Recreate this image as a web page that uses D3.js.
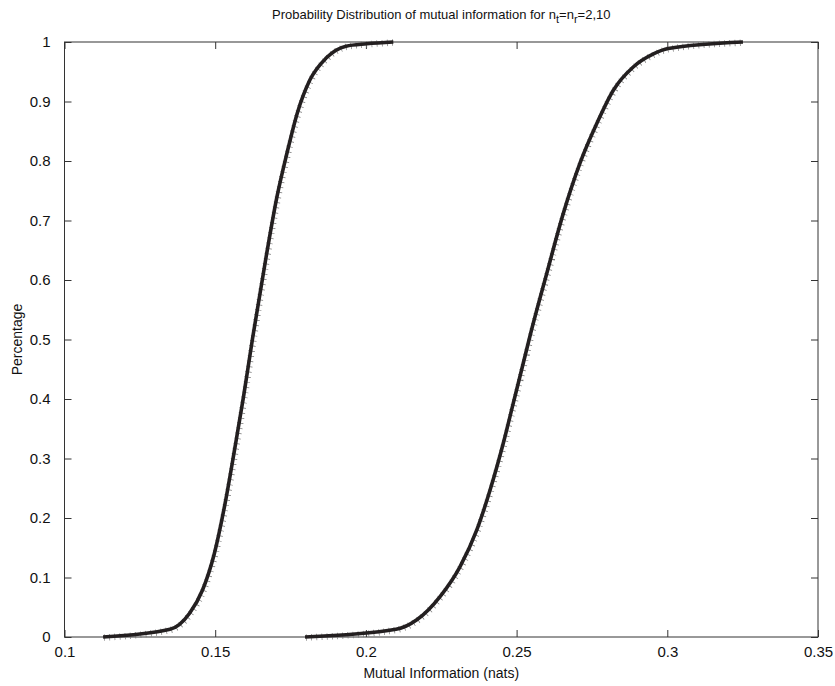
<!DOCTYPE html>
<html>
<head>
<meta charset="utf-8">
<script src="https://cdn.jsdelivr.net/npm/d3@7"></script>
<style>
  body { margin: 0; background: #fff; }
  text { font-family: "Liberation Sans", Arial, sans-serif; fill: #111; }
</style>
</head>
<body>
<svg id="chart" width="835" height="686"></svg>
<script>
// curve 1 (n = 2)
var mi1 = [0.1128, 0.135, 0.1415, 0.1458, 0.1497, 0.1533, 0.1566, 0.1594, 0.1624, 0.1669, 0.1705, 0.1738, 0.1772, 0.1814, 0.1868, 0.1934, 0.2003, 0.2091]
var p1  = [0, 0.013, 0.040, 0.079, 0.140, 0.225, 0.320, 0.404, 0.502, 0.639, 0.740, 0.813, 0.880, 0.936, 0.973, 0.993, 0.997, 1.0]

// curve 2 (n = 10)
var mi2 = [0.1798, 0.2100, 0.2169, 0.2246, 0.2312, 0.2368, 0.2412, 0.2456, 0.2489, 0.2522, 0.2544, 0.2600, 0.2655, 0.2710, 0.2766, 0.2821, 0.2887, 0.2954, 0.3003, 0.3251]
var p2  = [0, 0.013, 0.029, 0.068, 0.118, 0.180, 0.247, 0.326, 0.393, 0.460, 0.505, 0.611, 0.712, 0.796, 0.863, 0.919, 0.958, 0.980, 0.989, 1.0]

var xTicks = [0.1, 0.15, 0.2, 0.25, 0.3, 0.35]
var yTicks = [0, 0.1, 0.2, 0.3, 0.4, 0.5, 0.6, 0.7, 0.8, 0.9, 1]

var drawChart = () => {

    var svg = d3.select('#chart')

    // plot box (note: 'top' is reserved on window, so use other names)
    var boxLeft = 64.5, boxRight = 818, boxTop = 42, boxBottom = 637

    var x = d3.scaleLinear().domain([0.1, 0.35]).range([boxLeft, boxRight])
    var y = d3.scaleLinear().domain([0, 1]).range([boxBottom, boxTop])

    var axisColor = '#333'
    var tickLen = 7
    var fmt = d3.format('~g')

    svg.append('rect')
        .attr('x', boxLeft).attr('y', boxTop)
        .attr('width', boxRight - boxLeft).attr('height', boxBottom - boxTop)
        .attr('fill', 'none')
        .attr('stroke', axisColor)
        .attr('stroke-width', 1)

    // ticks point inwards on all four sides, MATLAB style
    var gx = svg.append('g')
        .attr('transform', 'translate(0,' + boxBottom + ')')
        .call(d3.axisBottom(x).tickValues(xTicks).tickSizeInner(-tickLen).tickSizeOuter(0).tickPadding(12).tickFormat(fmt))
    gx.select('.domain').remove()
    gx.selectAll('line').attr('stroke', axisColor)
    gx.selectAll('text').style('font-size', '15px').attr('dy', '0.5em')

    var gxt = svg.append('g')
        .attr('transform', 'translate(0,' + boxTop + ')')
        .call(d3.axisTop(x).tickValues(xTicks).tickSizeInner(-tickLen).tickSizeOuter(0).tickFormat(''))
    gxt.select('.domain').remove()
    gxt.selectAll('line').attr('stroke', axisColor)

    var gy = svg.append('g')
        .attr('transform', 'translate(' + boxLeft + ',0)')
        .call(d3.axisLeft(y).tickValues(yTicks).tickSizeInner(-tickLen).tickSizeOuter(0).tickPadding(14).tickFormat(fmt))
    gy.select('.domain').remove()
    gy.selectAll('line').attr('stroke', axisColor)
    gy.selectAll('text').style('font-size', '15px')

    var gyr = svg.append('g')
        .attr('transform', 'translate(' + boxRight + ',0)')
        .call(d3.axisRight(y).tickValues(yTicks).tickSizeInner(-tickLen).tickSizeOuter(0).tickFormat(''))
    gyr.select('.domain').remove()
    gyr.selectAll('line').attr('stroke', axisColor)

    // curves
    var line = d3.line()
        .x(d => x(d[0]))
        .y(d => y(d[1]))
        .curve(d3.curveMonotoneX)

    var series = [d3.zip(mi1, p1), d3.zip(mi2, p2)]

    series.forEach(pts => {
        // faint tick marks along the curve (the dotted overlay in the original)
        svg.append('path')
            .datum(pts)
            .attr('d', line)
            .attr('fill', 'none')
            .attr('stroke', '#777')
            .attr('stroke-width', 6.5)
            .attr('stroke-dasharray', '0.7,4.5')
            .attr('transform', 'translate(1,0.5)')
        svg.append('path')
            .datum(pts)
            .attr('d', line)
            .attr('fill', 'none')
            .attr('stroke', '#231f20')
            .attr('stroke-width', 3.6)
            .attr('stroke-linejoin', 'round')
    })

    // title with subscripts
    var title = svg.append('text')
        .attr('x', (boxLeft + boxRight) / 2)
        .attr('y', 19)
        .attr('text-anchor', 'middle')
        .style('font-size', '13px')
    title.append('tspan').text('Probability Distribution of mutual information for n')
    title.append('tspan').attr('dy', 4).style('font-size', '11px').text('t')
    title.append('tspan').attr('dy', -4).text('=n')
    title.append('tspan').attr('dy', 4).style('font-size', '11px').text('r')
    title.append('tspan').attr('dy', -4).text('=2,10')

    // axis labels
    svg.append('text')
        .attr('x', (boxLeft + boxRight) / 2)
        .attr('y', 678)
        .attr('text-anchor', 'middle')
        .style('font-size', '14px')
        .text('Mutual Information (nats)')

    svg.append('text')
        .attr('transform', 'translate(22,' + (boxTop + boxBottom) / 2 + ') rotate(-90)')
        .attr('text-anchor', 'middle')
        .style('font-size', '14px')
        .text('Percentage')
}

drawChart()
</script>
</body>
</html>
